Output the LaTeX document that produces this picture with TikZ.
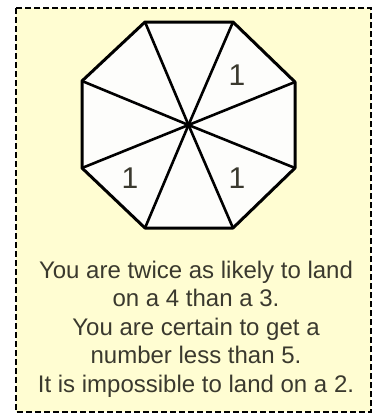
\documentclass[tikz,border=0pt]{standalone}
\usepackage{fontspec}
\setmainfont{Liberation Sans}
\usepackage{xcolor}
\definecolor{cCard}{HTML}{FFFDD2}
\definecolor{cInk}{HTML}{3A392E}
\definecolor{cFace}{HTML}{FDFDFB}
\usepackage{tikz}
\usetikzlibrary{positioning,calc}
\tikzset{
  card-edge/.style={draw=black,line width=2.6pt,dash pattern=on 6pt off 3pt,fill=cCard},
  spinner-face/.style={draw=black,line width=3pt,fill=cFace,line join=round},
  spinner-spoke/.style={draw=black,line width=2.6pt},
  sector-num/.style={font=\fontsize{30}{32}\selectfont,text=cInk,inner sep=0pt},
  clue-text/.style={font=\fontsize{24}{28.5}\selectfont,text=cInk,align=center,inner sep=0pt},
}

\begin{document}
\begin{tikzpicture}[x=1pt,y=-1pt]
  \useasboundingbox (0,0) rectangle (372,415);
  \path[card-edge] (16,8) rectangle (371,412);
  % spinner
  \coordinate (hub) at (188.5,125);
  \coordinate (v1) at (145,22);
  \coordinate (v2) at (233,22);
  \coordinate (v3) at (295,82);
  \coordinate (v4) at (295,168);
  \coordinate (v5) at (233,228);
  \coordinate (v6) at (145,228);
  \coordinate (v7) at (82,168);
  \coordinate (v8) at (82,81);
  \path[spinner-face] (v1) -- (v2) -- (v3) -- (v4) -- (v5) -- (v6) -- (v7) -- (v8) -- cycle;
  \foreach \v in {1,...,8}
    \draw[spinner-spoke] (hub) -- (v\v);
  \node[sector-num] (n1) at (237,75) {1};
  \node[sector-num] (n2) at (130,178) {1};
  \node[sector-num] (n3) at (237,178) {1};
  % clues
  \node[clue-text,anchor=base] (clues) at (196,392)
    {You are twice as likely to land\\on a 4 than a 3.\\You are certain to get a\\number less than 5.\\It is impossible to land on a 2.};
\end{tikzpicture}
\end{document}
